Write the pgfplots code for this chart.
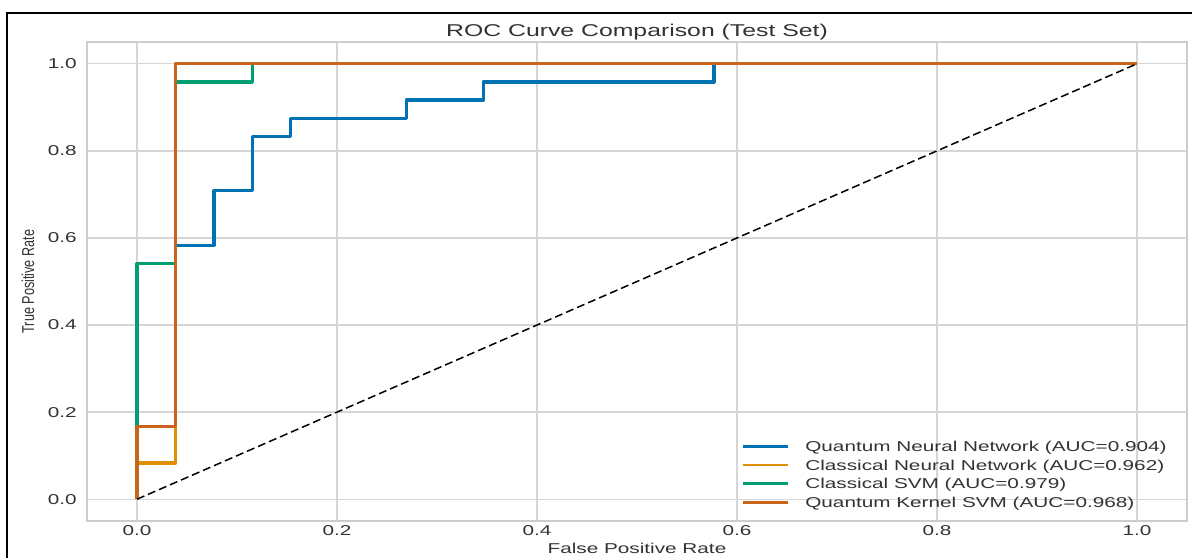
\documentclass[border=0pt]{standalone}
\usepackage{fontspec}
\setmainfont{Liberation Sans}[FakeStretch=1.45]
\newfontfamily\yfont{Liberation Sans}[FakeStretch=0.735]
\usepackage{pgfplots}
\pgfplotsset{compat=1.18}
\definecolor{cBlue}{HTML}{0173B2}
\definecolor{cOrange}{HTML}{DE8F05}
\definecolor{cGreen}{HTML}{029E73}
\definecolor{cBrown}{HTML}{C8651B}
\definecolor{gridc}{HTML}{D6D6D6}
\definecolor{spinec}{HTML}{CCCCCC}
\definecolor{txt}{HTML}{333333}
\begin{document}
\begin{tikzpicture}
\useasboundingbox (-43.5bp,-18.5bp) rectangle (552.5bp,260.5bp);
\fill[white] (-43.5bp,-18.5bp) rectangle (552.5bp,260.5bp);
\draw[black, line width=1bp] (-40bp,-18.5bp) -- (-40bp,254bp) -- (552.5bp,254bp);
\begin{axis}[
  at={(0,0)}, anchor=south west,
  scale only axis, width=550bp, height=239.5bp,
  xmin=-0.05, xmax=1.05, ymin=-0.05, ymax=1.05,
  xtick={0,0.2,0.4,0.6,0.8,1.0},
  ytick={0,0.2,0.4,0.6,0.8,1.0},
  /pgf/number format/.cd, fixed, fixed zerofill, precision=1, assume math mode=true,
  /pgfplots/.cd,
  major tick length=0pt,
  axis line style={draw=spinec, line width=0.8bp},
  grid=major,
  grid style={draw=gridc, line width=0.7bp},
  xticklabel style={font=\fontsize{7.15bp}{8bp}\selectfont, text=txt, anchor=base, yshift=-7bp, inner sep=0pt},
  yticklabel style={font=\fontsize{7.15bp}{8bp}\selectfont, text=txt, anchor=east, xshift=-5bp, inner sep=0pt},
  every axis title shift=0pt,
  title={ROC Curve Comparison (Test Set)},
  title style={font=\fontsize{8.55bp}{10bp}\selectfont, text=txt, at={(axis description cs:0.5,1.0113)}, anchor=base, inner sep=0pt},
  xlabel={False Positive Rate},
  xlabel style={font=\fontsize{7.15bp}{8bp}\selectfont, text=txt, at={(axis description cs:0.5,-0.0674)}, anchor=base, inner sep=0pt},
  ylabel={True Positive Rate},
  ylabel style={font=\yfont\fontsize{8.6bp}{10bp}\selectfont, text=txt, at={(axis description cs:-0.0536,0.5)}, anchor=center, inner sep=0pt},
  legend cell align=left,
  legend style={at={(axis description cs:0.5952,0.1722)}, anchor=north west, draw=none, fill=none,
    inner sep=0pt, outer sep=0pt, row sep=0pt,
    font=\fontsize{7.15bp}{8bp}\selectfont, text=txt,
    nodes={inner sep=0pt, outer sep=0pt, text height=6.6bp, text depth=2.7bp, anchor=base west},
    /tikz/every odd column/.append style={column sep=8bp}},
  legend image code/.code={\draw[#1, line width=1.3bp] (0bp,2.6bp) -- (22.5bp,2.6bp);},
  every axis plot/.append style={line width=1.6bp, line join=round},
]
\addplot[cBlue] coordinates {(0,0) (0,0.1667) (0.0385,0.1667) (0.0385,0.5833) (0.0769,0.5833) (0.0769,0.7083) (0.1154,0.7083) (0.1154,0.8333) (0.1538,0.8333) (0.1538,0.875) (0.2692,0.875) (0.2692,0.9167) (0.3462,0.9167) (0.3462,0.9583) (0.5769,0.9583) (0.5769,1) (1,1)};
\addlegendentry{Quantum Neural Network (AUC=0.904)}
\addplot[cOrange] coordinates {(0,0) (0,0.0833) (0.0385,0.0833) (0.0385,1) (1,1)};
\addlegendentry{Classical Neural Network (AUC=0.962)}
\addplot[cGreen] coordinates {(0,0) (0,0.5417) (0.0385,0.5417) (0.0385,0.9583) (0.1154,0.9583) (0.1154,1) (1,1)};
\addlegendentry{Classical SVM (AUC=0.979)}
\addplot[cBrown] coordinates {(0,0) (0,0.1667) (0.0385,0.1667) (0.0385,1) (1,1)};
\addlegendentry{Quantum Kernel SVM (AUC=0.968)}
\addplot[black, line width=0.75bp, dash pattern=on 4bp off 2bp, forget plot] coordinates {(0,0) (1,1)};
\end{axis}
\end{tikzpicture}
\end{document}
